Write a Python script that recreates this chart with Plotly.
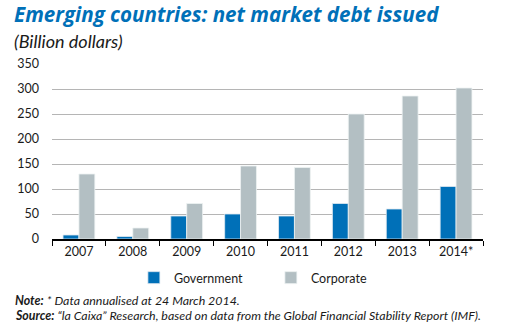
import plotly.graph_objects as go

years = ["2007", "2008", "2009", "2010", "2011", "2012", "2013", "2014*"]
government = [8, 5, 46, 50, 46, 71, 60, 105]
corporate = [130, 22, 71, 146, 143, 250, 286, 302]
y_ticks = [0, 50, 100, 150, 200, 250, 300, 350]

FONT = "Lato"
fig = go.Figure()
fig.add_trace(go.Bar(x=years, y=government, name="Government",
                     marker=dict(color="#0070b8", line=dict(color="#dfe9f0", width=0.8))))
fig.add_trace(go.Bar(x=years, y=corporate, name="Corporate",
                     marker=dict(color="#b3bfc3", line=dict(color="#eef2f3", width=0.8))))

fig.update_layout(
    width=514, height=335,
    margin=dict(l=52, r=31, t=64, b=96),
    paper_bgcolor="white", plot_bgcolor="white",
    barmode="group", bargap=0.41, bargroupgap=0,
    font=dict(family=FONT, size=12, color="#1a1a1a"),
    showlegend=True,
    legend=dict(orientation="h", x=0.19, xanchor="left", y=-0.223, yanchor="middle",
                font=dict(size=12.5), itemwidth=30, traceorder="normal",
                entrywidth=92, entrywidthmode="pixels"),
    xaxis=dict(showline=True, linecolor="black", linewidth=1.5, ticks="outside",
               tickson="boundaries", ticklen=5, tickcolor="black", tickwidth=1.2,
               showgrid=False, tickfont=dict(size=12.5)),
    yaxis=dict(range=[0, 350], tickvals=y_ticks, showgrid=True, gridcolor="#b5b5b5",
               gridwidth=1, zeroline=False, showline=False, ticks="",
               tickfont=dict(size=12.5), ticklabelstandoff=12),
)

fig.add_annotation(text="<b><i>Emerging countries: net market debt issued</i></b>",
                   xref="paper", yref="paper", x=-0.093, y=1.0, yshift=50,
                   xanchor="left", yanchor="middle", showarrow=False,
                   font=dict(size=20.6, color="#0070b8", family="Open Sans"))
fig.add_annotation(text="<i>(Billion dollars)</i>",
                   xref="paper", yref="paper", x=-0.093, y=1.0, yshift=23,
                   xanchor="left", yanchor="middle", showarrow=False,
                   font=dict(size=18, color="#1a1a1a", family=FONT))
fig.add_annotation(text="<b><i>Note:</i></b><i> * Data annualised at 24 March 2014.</i>",
                   xref="paper", yref="paper", x=-0.091, y=0, yshift=-61,
                   xanchor="left", yanchor="middle", showarrow=False,
                   font=dict(size=12.4, color="#1a1a1a", family=FONT))
fig.add_annotation(text="<b><i>Source:</i></b><i> \u201cla Caixa\u201d Research, based on data from the Global Financial Stability Report (IMF).</i>",
                   xref="paper", yref="paper", x=-0.091, y=0, yshift=-76,
                   xanchor="left", yanchor="middle", showarrow=False,
                   font=dict(size=12.4, color="#1a1a1a", family=FONT))

fig.write_html("out.html")
